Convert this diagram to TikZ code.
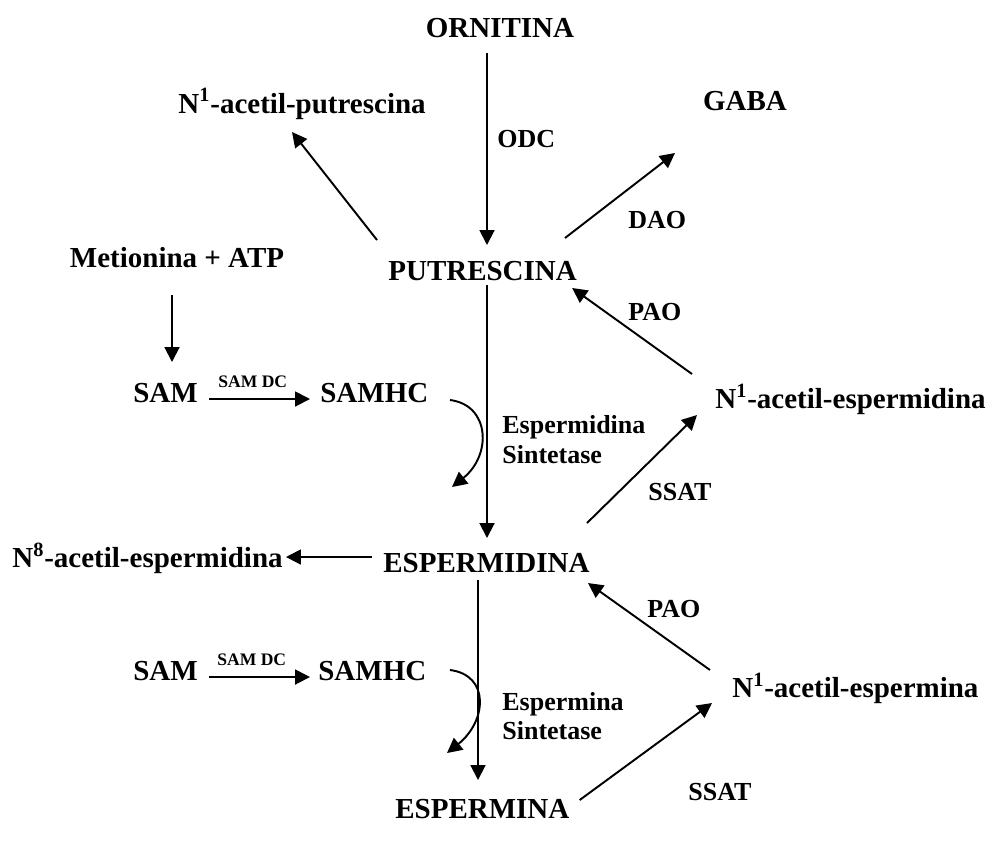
\documentclass[tikz,border=0pt]{standalone}
\usepackage{fontspec}
\setmainfont{Liberation Serif}
\usetikzlibrary{arrows.meta,calc}

\begin{document}
\begin{tikzpicture}[x=0.02cm, y=-0.02cm,
  met/.style={inner sep=0pt, font=\bfseries\fontsize{16.5}{19}\selectfont},
  enz/.style={inner sep=0pt, font=\bfseries\fontsize{14.8}{17}\selectfont},
  sdc/.style={inner sep=0pt, font=\bfseries\fontsize{10}{12}\selectfont},
  arr/.style={-{Triangle[length=8.5pt,width=8.5pt]}, line width=1.1pt}]

\useasboundingbox (0,0) rectangle (989,850);

% metabolitos
\node[met, anchor=base] (orn) at (500,37) {ORNITINA};
\node[met, anchor=base east] (nput) at (426,113) {N\textsuperscript{1}-acetil-putrescina};
\node[met, anchor=base] (gaba) at (745,110) {GABA};
\node[met, anchor=base] (met) at (177,267) {Metionina + ATP};
\node[met, anchor=base west] (put) at (388,280) {PUTRESCINA};
\node[met, anchor=base west] (sama) at (133,402) {SAM};
\node[met, anchor=base west] (samhca) at (320,402) {SAMHC};
\node[met, anchor=base west] (nespd) at (715,408) {N\textsuperscript{1}-acetil-espermidina};
\node[met, anchor=base west] (neight) at (12,567) {N\textsuperscript{8}-acetil-espermidina};
\node[met, anchor=base west] (espd) at (383,572) {ESPERMIDINA};
\node[met, anchor=base west] (samb) at (133,680) {SAM};
\node[met, anchor=base west] (samhcb) at (318,680) {SAMHC};
\node[met, anchor=base west] (nespm) at (732,697) {N\textsuperscript{1}-acetil-espermina};
\node[met, anchor=base west] (espm) at (395,818) {ESPERMINA};

% enzimas
\node[enz, anchor=base west] (odc) at (497,147) {ODC};
\node[enz, anchor=base west] (dao) at (628,228) {DAO};
\node[enz, anchor=base west] (paoa) at (628,320) {PAO};
\node[sdc, anchor=base west] (sdca) at (218,387) {SAM DC};
\node[enz, anchor=base west] (spda) at (502,433) {Espermidina};
\node[enz, anchor=base west] (spdb) at (502,463) {Sintetase};
\node[enz, anchor=base west] (ssata) at (648,500) {SSAT};
\node[enz, anchor=base west] (paob) at (647,617) {PAO};
\node[sdc, anchor=base west] (sdcb) at (217,665) {SAM DC};
\node[enz, anchor=base west] (spma) at (502,710) {Espermina};
\node[enz, anchor=base west] (spmb) at (502,739) {Sintetase};
\node[enz, anchor=base west] (ssatb) at (688,800) {SSAT};

% setas
\draw[arr] ($(orn.base)+(-13,16)$) -- ($(put.base west)+(99,-35)$);
\draw[arr] ($(put.base west)+(-11,-40)$) -- ($(nput.base east)+(-134,19)$);
\draw[arr] ($(put.base west)+(177,-42)$) -- ($(gaba.base)+(-70,43)$);
\draw[arr] ($(met.base)+(-5,28)$) -- ($(sama.base west)+(39,-40)$);
\draw[arr] ($(sama.base east)+(11,-3)$) -- ($(samhca.base west)+(-10,-3)$);
\draw[arr] ($(samhca.base west)+(130,-2)$) .. controls +(40,5) and +(40,-32) .. ($(samhca.base west)+(132,85)$);
\draw[arr] ($(put.base west)+(99,5)$) -- ($(espd.base west)+(104,-34)$);
\draw[arr] ($(nespd.base west)+(-23,-34)$) -- ($(put.base east)+(-5,8)$);
\draw[arr] ($(espd.base west)+(204,-49)$) -- ($(nespd.base west)+(-18,7)$);
\draw[arr] ($(espd.base west)+(-11,-15)$) -- ($(neight.base east)+(3,-10)$);
\draw[arr] ($(espd.base west)+(95,8)$) -- ($(espm.base west)+(83,-38)$);
\draw[arr] ($(nespm.base west)+(-22,-27)$) -- ($(espd.base west)+(205,11)$);
\draw[arr] ($(samb.base east)+(11,-3)$) -- ($(samhcb.base west)+(-8,-3)$);
\draw[arr] ($(samhcb.base west)+(132,-10)$) .. controls +(40,5) and +(40,-32) .. ($(samhcb.base west)+(129,73)$);
\draw[arr] ($(espm.base east)+(10,-18)$) -- ($(nespm.base west)+(-20,6)$);

\end{tikzpicture}
\end{document}
